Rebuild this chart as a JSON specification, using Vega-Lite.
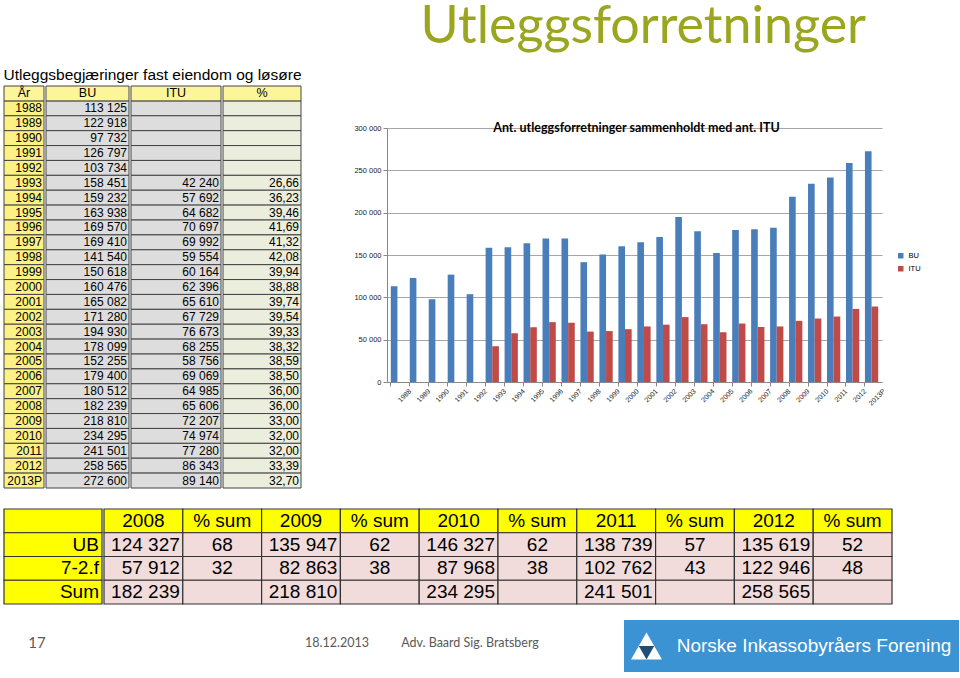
{
  "$schema": "https://vega.github.io/schema/vega-lite/v6.json",
  "padding": {"left": 3, "top": 0, "right": 0, "bottom": 0},
  "background": "white",
  "config": {
    "locale": {"number": {"decimal": ",", "thousands": " ", "grouping": [3], "currency": ["", " kr"]}},
    "view": {"stroke": null},
    "font": "Liberation Sans"
  },
  "title": {"text": "Utleggsforretninger", "font": "Lato", "fontSize": 52, "fontWeight": "normal", "color": "#9aa61e", "anchor": "start", "dx": 417, "dy": 4, "offset": 18.5},
  "datasets": {
    "years": [
      {"year": "1988", "BU": 113125, "ITU": null, "pct": null},
      {"year": "1989", "BU": 122918, "ITU": null, "pct": null},
      {"year": "1990", "BU": 97732, "ITU": null, "pct": null},
      {"year": "1991", "BU": 126797, "ITU": null, "pct": null},
      {"year": "1992", "BU": 103734, "ITU": null, "pct": null},
      {"year": "1993", "BU": 158451, "ITU": 42240, "pct": 26.66},
      {"year": "1994", "BU": 159232, "ITU": 57692, "pct": 36.23},
      {"year": "1995", "BU": 163938, "ITU": 64682, "pct": 39.46},
      {"year": "1996", "BU": 169570, "ITU": 70697, "pct": 41.69},
      {"year": "1997", "BU": 169410, "ITU": 69992, "pct": 41.32},
      {"year": "1998", "BU": 141540, "ITU": 59554, "pct": 42.08},
      {"year": "1999", "BU": 150618, "ITU": 60164, "pct": 39.94},
      {"year": "2000", "BU": 160476, "ITU": 62396, "pct": 38.88},
      {"year": "2001", "BU": 165082, "ITU": 65610, "pct": 39.74},
      {"year": "2002", "BU": 171280, "ITU": 67729, "pct": 39.54},
      {"year": "2003", "BU": 194930, "ITU": 76673, "pct": 39.33},
      {"year": "2004", "BU": 178099, "ITU": 68255, "pct": 38.32},
      {"year": "2005", "BU": 152255, "ITU": 58756, "pct": 38.59},
      {"year": "2006", "BU": 179400, "ITU": 69069, "pct": 38.50},
      {"year": "2007", "BU": 180512, "ITU": 64985, "pct": 36.00},
      {"year": "2008", "BU": 182239, "ITU": 65606, "pct": 36.00},
      {"year": "2009", "BU": 218810, "ITU": 72207, "pct": 33.00},
      {"year": "2010", "BU": 234295, "ITU": 74974, "pct": 32.00},
      {"year": "2011", "BU": 241501, "ITU": 77280, "pct": 32.00},
      {"year": "2012", "BU": 258565, "ITU": 86343, "pct": 33.39},
      {"year": "2013P", "BU": 272600, "ITU": 89140, "pct": 32.70}
    ],
    "bhead": [
      {"r": "hdr", "c": "2008", "lab": "2008"},
      {"r": "hdr", "c": "2008%", "lab": "% sum"},
      {"r": "hdr", "c": "2009", "lab": "2009"},
      {"r": "hdr", "c": "2009%", "lab": "% sum"},
      {"r": "hdr", "c": "2010", "lab": "2010"},
      {"r": "hdr", "c": "2010%", "lab": "% sum"},
      {"r": "hdr", "c": "2011", "lab": "2011"},
      {"r": "hdr", "c": "2011%", "lab": "% sum"},
      {"r": "hdr", "c": "2012", "lab": "2012"},
      {"r": "hdr", "c": "2012%", "lab": "% sum"}
    ],
    "brows": [
      {"r": "hdr", "lab": ""},
      {"r": "UB", "lab": "UB"},
      {"r": "7-2.f", "lab": "7-2.f"},
      {"r": "Sum", "lab": "Sum"}
    ],
    "bvals": [
      {"r": "UB", "c": "2008", "k": "n", "v": 124327},
      {"r": "UB", "c": "2008%", "k": "p", "v": 68},
      {"r": "UB", "c": "2009", "k": "n", "v": 135947},
      {"r": "UB", "c": "2009%", "k": "p", "v": 62},
      {"r": "UB", "c": "2010", "k": "n", "v": 146327},
      {"r": "UB", "c": "2010%", "k": "p", "v": 62},
      {"r": "UB", "c": "2011", "k": "n", "v": 138739},
      {"r": "UB", "c": "2011%", "k": "p", "v": 57},
      {"r": "UB", "c": "2012", "k": "n", "v": 135619},
      {"r": "UB", "c": "2012%", "k": "p", "v": 52},
      {"r": "7-2.f", "c": "2008", "k": "n", "v": 57912},
      {"r": "7-2.f", "c": "2008%", "k": "p", "v": 32},
      {"r": "7-2.f", "c": "2009", "k": "n", "v": 82863},
      {"r": "7-2.f", "c": "2009%", "k": "p", "v": 38},
      {"r": "7-2.f", "c": "2010", "k": "n", "v": 87968},
      {"r": "7-2.f", "c": "2010%", "k": "p", "v": 38},
      {"r": "7-2.f", "c": "2011", "k": "n", "v": 102762},
      {"r": "7-2.f", "c": "2011%", "k": "p", "v": 43},
      {"r": "7-2.f", "c": "2012", "k": "n", "v": 122946},
      {"r": "7-2.f", "c": "2012%", "k": "p", "v": 48},
      {"r": "Sum", "c": "2008", "k": "n", "v": 182239},
      {"r": "Sum", "c": "2008%", "k": "p", "v": null},
      {"r": "Sum", "c": "2009", "k": "n", "v": 218810},
      {"r": "Sum", "c": "2009%", "k": "p", "v": null},
      {"r": "Sum", "c": "2010", "k": "n", "v": 234295},
      {"r": "Sum", "c": "2010%", "k": "p", "v": null},
      {"r": "Sum", "c": "2011", "k": "n", "v": 241501},
      {"r": "Sum", "c": "2011%", "k": "p", "v": null},
      {"r": "Sum", "c": "2012", "k": "n", "v": 258565},
      {"r": "Sum", "c": "2012%", "k": "p", "v": null}
    ]
  },
  "spacing": 19,
  "resolve": {"scale": {"color": "independent"}, "legend": {"color": "independent"}},
  "vconcat": [
    {
      "spacing": 51,
      "resolve": {"scale": {"color": "independent"}, "legend": {"color": "independent"}},
      "hconcat": [
        {
          "title": {"text": "Utleggsbegjæringer fast eiendom og løsøre", "anchor": "start", "font": "Liberation Sans", "fontSize": 15.5, "fontWeight": "normal", "color": "#000", "offset": 2},
          "spacing": 0,
          "hconcat": [
            {
              "width": 40, "height": 402,
              "layer": [
                {"data": {"name": "years"}, "mark": {"type": "rect", "fill": "#fcf184", "stroke": "#444", "strokeWidth": 1},
                 "encoding": {"y": {"field": "year", "type": "nominal", "scale": {"domain": ["År","1988","1989","1990","1991","1992","1993","1994","1995","1996","1997","1998","1999","2000","2001","2002","2003","2004","2005","2006","2007","2008","2009","2010","2011","2012","2013P"], "paddingInner": 0, "paddingOuter": 0}, "axis": null}}},
                {"data": {"name": "years"}, "mark": {"type": "text", "align": "right", "dx": -2, "fontSize": 12, "color": "#000"},
                 "encoding": {"y": {"field": "year", "type": "nominal"}, "x": {"datum": 1, "type": "quantitative", "scale": {"domain": [0, 1], "nice": false, "zero": false}, "axis": null}, "text": {"field": "year", "type": "nominal"}}},
                {"data": {"values": [{"year": "År", "h": "År"}]}, "mark": {"type": "rect", "fill": "#fdf59a", "stroke": "#444", "strokeWidth": 1},
                 "encoding": {"y": {"field": "year", "type": "nominal"}}},
                {"data": {"values": [{"year": "År", "h": "År"}]}, "mark": {"type": "text", "fontSize": 12.5, "color": "#000"},
                 "encoding": {"y": {"field": "year", "type": "nominal"}, "text": {"field": "h", "type": "nominal"}}}
              ]
            },
            {
              "width": 83, "height": 402,
              "layer": [
                {"data": {"name": "years"}, "mark": {"type": "rect", "fill": "#dddddd", "stroke": "#444", "strokeWidth": 1},
                 "encoding": {"y": {"field": "year", "type": "nominal", "scale": {"domain": ["År","1988","1989","1990","1991","1992","1993","1994","1995","1996","1997","1998","1999","2000","2001","2002","2003","2004","2005","2006","2007","2008","2009","2010","2011","2012","2013P"], "paddingInner": 0, "paddingOuter": 0}, "axis": null}}},
                {"data": {"name": "years"}, "mark": {"type": "text", "align": "right", "dx": -2, "fontSize": 12, "color": "#000"},
                 "encoding": {"y": {"field": "year", "type": "nominal"}, "x": {"datum": 1, "type": "quantitative", "scale": {"domain": [0, 1], "nice": false, "zero": false}, "axis": null}, "text": {"field": "BU", "type": "quantitative", "format": ",d"}}},
                {"data": {"values": [{"year": "År", "h": "BU"}]}, "mark": {"type": "rect", "fill": "#fdf59a", "stroke": "#444", "strokeWidth": 1},
                 "encoding": {"y": {"field": "year", "type": "nominal"}}},
                {"data": {"values": [{"year": "År", "h": "BU"}]}, "mark": {"type": "text", "fontSize": 12.5, "color": "#000"},
                 "encoding": {"y": {"field": "year", "type": "nominal"}, "text": {"field": "h", "type": "nominal"}}}
              ]
            },
            {
              "width": 90, "height": 402,
              "layer": [
                {"data": {"name": "years"}, "mark": {"type": "rect", "fill": "#dddddd", "stroke": "#444", "strokeWidth": 1},
                 "encoding": {"y": {"field": "year", "type": "nominal", "scale": {"domain": ["År","1988","1989","1990","1991","1992","1993","1994","1995","1996","1997","1998","1999","2000","2001","2002","2003","2004","2005","2006","2007","2008","2009","2010","2011","2012","2013P"], "paddingInner": 0, "paddingOuter": 0}, "axis": null}}},
                {"data": {"name": "years"}, "transform": [{"filter": "datum.ITU != null"}], "mark": {"type": "text", "align": "right", "dx": -2, "fontSize": 12, "color": "#000"},
                 "encoding": {"y": {"field": "year", "type": "nominal"}, "x": {"datum": 1, "type": "quantitative", "scale": {"domain": [0, 1], "nice": false, "zero": false}, "axis": null}, "text": {"field": "ITU", "type": "quantitative", "format": ",d"}}},
                {"data": {"values": [{"year": "År", "h": "ITU"}]}, "mark": {"type": "rect", "fill": "#fdf59a", "stroke": "#444", "strokeWidth": 1},
                 "encoding": {"y": {"field": "year", "type": "nominal"}}},
                {"data": {"values": [{"year": "År", "h": "ITU"}]}, "mark": {"type": "text", "fontSize": 12.5, "color": "#000"},
                 "encoding": {"y": {"field": "year", "type": "nominal"}, "text": {"field": "h", "type": "nominal"}}}
              ]
            },
            {
              "width": 78, "height": 402,
              "layer": [
                {"data": {"name": "years"}, "mark": {"type": "rect", "fill": "#ebeedd", "stroke": "#444", "strokeWidth": 1},
                 "encoding": {"y": {"field": "year", "type": "nominal", "scale": {"domain": ["År","1988","1989","1990","1991","1992","1993","1994","1995","1996","1997","1998","1999","2000","2001","2002","2003","2004","2005","2006","2007","2008","2009","2010","2011","2012","2013P"], "paddingInner": 0, "paddingOuter": 0}, "axis": null}}},
                {"data": {"name": "years"}, "transform": [{"filter": "datum.pct != null"}], "mark": {"type": "text", "align": "right", "dx": -2, "fontSize": 12, "color": "#000"},
                 "encoding": {"y": {"field": "year", "type": "nominal"}, "x": {"datum": 1, "type": "quantitative", "scale": {"domain": [0, 1], "nice": false, "zero": false}, "axis": null}, "text": {"field": "pct", "type": "quantitative", "format": ",.2f"}}},
                {"data": {"values": [{"year": "År", "h": "%"}]}, "mark": {"type": "rect", "fill": "#fdf59a", "stroke": "#444", "strokeWidth": 1},
                 "encoding": {"y": {"field": "year", "type": "nominal"}}},
                {"data": {"values": [{"year": "År", "h": "%"}]}, "mark": {"type": "text", "fontSize": 12.5, "color": "#000"},
                 "encoding": {"y": {"field": "year", "type": "nominal"}, "text": {"field": "h", "type": "nominal"}}}
              ]
            }
          ]
        },
        {
          "spacing": 0,
          "resolve": {"scale": {"color": "independent"}, "legend": {"color": "independent"}},
          "vconcat": [
            {"width": 10, "height": 36, "data": {"values": []}, "mark": "text", "view": {"fill": "white", "stroke": null}},
            {
              "width": 495, "height": 254,
              "layer": [
                {
                  "data": {"name": "years"},
                  "transform": [{"fold": ["BU", "ITU"], "as": ["serie", "antall"]}],
                  "mark": {"type": "bar"},
                  "encoding": {
                    "x": {"field": "year", "type": "nominal", "sort": null, "scale": {"paddingInner": 0.3, "paddingOuter": 0.2},
                          "axis": {"title": null, "labelAngle": -45, "labelFontSize": 7, "labelColor": "#222", "bandPosition": 0, "labelOffset": 10, "tickSize": 4, "tickColor": "#888", "domainColor": "#888", "labelPadding": 1}},
                    "xOffset": {"field": "serie", "type": "nominal", "scale": {"paddingInner": 0}},
                    "y": {"field": "antall", "type": "quantitative", "scale": {"domain": [0, 300000]},
                          "axis": {"title": null, "values": [0, 50000, 100000, 150000, 200000, 250000, 300000], "format": ",d", "labelFontSize": 7.5, "labelColor": "#222", "tickSize": 4, "tickColor": "#888", "domainColor": "#888", "gridColor": "#a6a6a6", "labelPadding": 2}},
                    "color": {"field": "serie", "type": "nominal", "scale": {"domain": ["BU", "ITU"], "range": ["#4a7ebb", "#be4b48"]},
                              "legend": {"title": null, "orient": "none", "legendX": 510, "legendY": 124, "symbolType": "square", "symbolSize": 30, "labelFontSize": 7.5, "rowPadding": 4, "symbolStrokeWidth": 0}}
                  }
                },
                {
                  "data": {"values": [{"t": "Ant. utleggsforretninger sammenholdt med ant. ITU"}]},
                  "mark": {"type": "text", "font": "Lato", "fontSize": 12.5, "fontWeight": "bold", "color": "#000", "baseline": "middle", "dx": 2},
                  "encoding": {"y": {"datum": 300000, "type": "quantitative"}, "text": {"field": "t", "type": "nominal"}}
                }
              ]
            }
          ]
        }
      ]
    },
    {
      "spacing": 15,
      "vconcat": [
        {
          "spacing": 0,
          "hconcat": [
            {
              "width": 98, "height": 95,
              "data": {"name": "brows"},
              "layer": [
                {"mark": {"type": "rect", "fill": "#ffff00", "stroke": "#333", "strokeWidth": 1.2},
                 "encoding": {"y": {"field": "r", "type": "nominal", "scale": {"domain": ["hdr", "UB", "7-2.f", "Sum"], "paddingInner": 0, "paddingOuter": 0}, "axis": null}}},
                {"mark": {"type": "text", "align": "right", "dx": -3, "fontSize": 19, "color": "#000"},
                 "encoding": {"y": {"field": "r", "type": "nominal"}, "x": {"datum": 1, "type": "quantitative", "scale": {"domain": [0, 1], "nice": false, "zero": false}, "axis": null}, "text": {"field": "lab", "type": "nominal"}}}
              ]
            },
            {
              "width": 788, "height": 95,
              "layer": [
                {"data": {"name": "bhead"}, "mark": {"type": "rect", "fill": "#ffff00", "stroke": "#333", "strokeWidth": 1.2},
                 "encoding": {
                   "x": {"field": "c", "type": "nominal", "sort": null, "scale": {"domain": ["2008", "2008%", "2009", "2009%", "2010", "2010%", "2011", "2011%", "2012", "2012%"], "paddingInner": 0, "paddingOuter": 0}, "axis": null},
                   "y": {"field": "r", "type": "nominal", "scale": {"domain": ["hdr", "UB", "7-2.f", "Sum"], "paddingInner": 0, "paddingOuter": 0}, "axis": null}}},
                {"data": {"name": "bhead"}, "mark": {"type": "text", "fontSize": 19, "color": "#000"},
                 "encoding": {"x": {"field": "c", "type": "nominal"}, "y": {"field": "r", "type": "nominal"}, "text": {"field": "lab", "type": "nominal"}}},
                {"data": {"name": "bvals"}, "mark": {"type": "rect", "fill": "#f2dcdb", "stroke": "#333", "strokeWidth": 1.2},
                 "encoding": {"x": {"field": "c", "type": "nominal"}, "y": {"field": "r", "type": "nominal"}}},
                {"data": {"name": "bvals"}, "transform": [{"filter": "datum.k == 'n'"}], "mark": {"type": "text", "align": "right", "dx": -3, "fontSize": 19, "color": "#000"},
                 "encoding": {"x": {"field": "c", "type": "nominal", "bandPosition": 1}, "y": {"field": "r", "type": "nominal"}, "text": {"field": "v", "type": "quantitative", "format": ",d"}}},
                {"data": {"name": "bvals"}, "transform": [{"filter": "datum.k == 'p' && datum.v != null"}], "mark": {"type": "text", "fontSize": 19, "color": "#000"},
                 "encoding": {"x": {"field": "c", "type": "nominal"}, "y": {"field": "r", "type": "nominal"}, "text": {"field": "v", "type": "quantitative", "format": "d"}}}
              ]
            }
          ]
        },
        {
          "spacing": 0,
          "hconcat": [
            {"width": 66, "height": 52, "data": {"values": [{"t": "17"}]}, "mark": {"type": "text", "font": "Lato", "fontSize": 15, "color": "#595959", "dy": -3}, "encoding": {"text": {"field": "t", "type": "nominal"}}},
            {"width": 221, "height": 52, "data": {"values": []}, "mark": "text", "view": {"fill": "white", "stroke": null}},
            {"width": 92, "height": 52, "data": {"values": [{"t": "18.12.2013"}]}, "mark": {"type": "text", "font": "Lato", "fontSize": 12.5, "color": "#595959", "dy": -3}, "encoding": {"text": {"field": "t", "type": "nominal"}}},
            {"width": 174, "height": 52, "data": {"values": [{"t": "Adv. Baard Sig. Bratsberg"}]}, "mark": {"type": "text", "font": "Lato", "fontSize": 12.5, "color": "#595959", "dy": -3}, "encoding": {"text": {"field": "t", "type": "nominal"}}},
            {"width": 67, "height": 52, "data": {"values": []}, "mark": "text", "view": {"fill": "white", "stroke": null}},
            {"width": 45, "height": 52, "view": {"fill": "#3b93d3", "stroke": null}, "data": {"values": [{"t": "logo"}]},
             "layer": [
               {"mark": {"type": "point", "shape": "M0,-0.866L1,0.866L-1,0.866Z", "size": 961, "filled": true, "color": "#ffffff", "opacity": 1}, "encoding": {}},
               {"mark": {"type": "point", "shape": "M-0.5,0L0.5,0L0,0.866Z", "size": 961, "filled": true, "color": "#1f4e79", "opacity": 1}, "encoding": {}}
             ]},
            {"width": 290, "height": 52, "view": {"fill": "#3b93d3", "stroke": null}, "data": {"values": [{"t": "Norske Inkassobyråers Forening"}]}, "mark": {"type": "text", "fontSize": 19, "color": "#ffffff"}, "encoding": {"text": {"field": "t", "type": "nominal"}}}
          ]
        }
      ]
    }
  ]
}
